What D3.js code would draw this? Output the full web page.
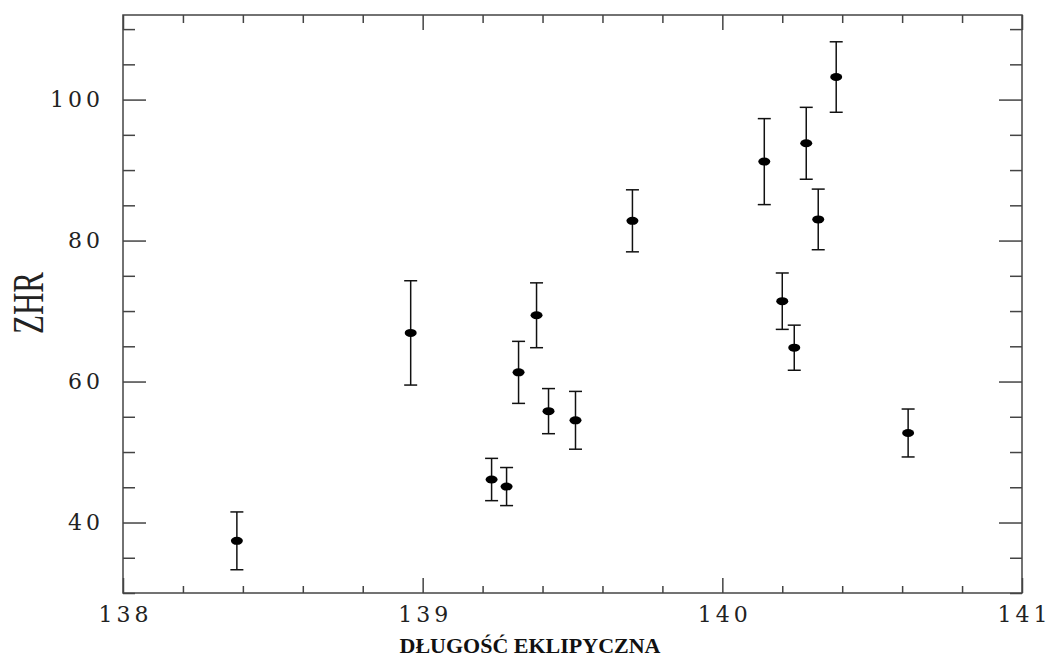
<!DOCTYPE html>
<html>
<head>
<meta charset="utf-8">
<script src="https://cdn.jsdelivr.net/npm/d3@7"></script>
<style>
  body { margin: 0; background: #fff; }
  .tick text { font-family: "DejaVu Serif", serif; font-size: 22px; letter-spacing: 4px; fill: #222; }
</style>
</head>
<body>
<div id="chart"></div>
<script>
// ecliptic longitude (deg), ZHR and its error
const longitude = [138.38, 138.96, 139.23, 139.28, 139.32, 139.38, 139.42, 139.51, 139.70, 140.14, 140.20, 140.24, 140.28, 140.32, 140.38, 140.62];
const zhr       = [37.4,   66.9,   46.1,   45.1,   61.3,   69.4,   55.8,   54.5,   82.8,   91.2,   71.4,   64.8,   93.8,   83.0,   103.2,  52.7];
const zhrError  = [4.1,    7.4,    3.0,    2.7,    4.4,    4.6,    3.2,    4.1,    4.4,    6.1,    4.0,    3.2,    5.1,    4.3,    5.0,    3.4];

const xMajor = [138, 139, 140, 141];
const yMajor = [40, 60, 80, 100];

const width = 1050, height = 660;
const margin = { left: 123, right: 28, top: 15, bottom: 67 };

const svg = d3.select('#chart').append('svg')
    .attr('width', width)
    .attr('height', height);

const x = d3.scaleLinear().domain([138, 141]).range([margin.left, width - margin.right]);
const y = d3.scaleLinear().domain([30, 112]).range([height - margin.bottom, margin.top]);

const xMinor = d3.range(138, 141.001, 0.2).filter(v => Math.abs(v - Math.round(v)) > 0.01);
const yMinor = d3.range(30, 112, 5).filter(v => v % 20 !== 0);

const bottomY = height - margin.bottom;
const rightX = width - margin.right;

// minor ticks (inside, all four sides)
svg.append('g').attr('transform', `translate(0,${bottomY})`)
    .call(d3.axisBottom(x).tickValues(xMinor).tickSize(-7).tickSizeOuter(0).tickFormat(''));
svg.append('g').attr('transform', `translate(0,${margin.top})`)
    .call(d3.axisTop(x).tickValues(xMinor).tickSize(-8).tickSizeOuter(0).tickFormat(''));
svg.append('g').attr('transform', `translate(${margin.left},0)`)
    .call(d3.axisLeft(y).tickValues(yMinor).tickSize(-12).tickSizeOuter(0).tickFormat(''));
svg.append('g').attr('transform', `translate(${rightX},0)`)
    .call(d3.axisRight(y).tickValues(yMinor).tickSize(-12).tickSizeOuter(0).tickFormat(''));

// major ticks with labels
svg.append('g').attr('class', 'x-major').attr('transform', `translate(0,${bottomY})`)
    .call(d3.axisBottom(x).tickValues(xMajor).tickSize(-15).tickSizeOuter(0).tickPadding(13).tickFormat(d3.format('d')));
svg.append('g').attr('transform', `translate(0,${margin.top})`)
    .call(d3.axisTop(x).tickValues(xMajor).tickSize(-15).tickSizeOuter(0).tickFormat(''));
svg.append('g').attr('transform', `translate(${margin.left},0)`)
    .call(d3.axisLeft(y).tickValues(yMajor).tickSize(-23).tickSizeOuter(0).tickPadding(19).tickFormat(d3.format('d')));
svg.append('g').attr('transform', `translate(${rightX},0)`)
    .call(d3.axisRight(y).tickValues(yMajor).tickSize(-23).tickSizeOuter(0).tickFormat(''));

// letter-spacing leaves a trailing gap, nudge centred labels back
svg.selectAll('.x-major .tick text').attr('dx', 2);

svg.selectAll('.domain').remove();
svg.selectAll('.tick line').attr('stroke', '#444').attr('stroke-width', 1.5);

// frame
svg.append('rect')
    .attr('x', margin.left)
    .attr('y', margin.top)
    .attr('width', rightX - margin.left)
    .attr('height', bottomY - margin.top)
    .attr('fill', 'none')
    .attr('stroke', '#444')
    .attr('stroke-width', 1.5);

// error bars
const points = longitude.map((lon, i) => ({ lon, zhr: zhr[i], err: zhrError[i] }));
const bars = svg.append('g').attr('stroke', '#111').attr('stroke-width', 1.5);

points.forEach(p => {
    const cx = x(p.lon);
    const top = y(p.zhr + p.err);
    const bot = y(p.zhr - p.err);
    bars.append('line').attr('x1', cx).attr('x2', cx).attr('y1', top).attr('y2', bot);
    bars.append('line').attr('x1', cx - 6.5).attr('x2', cx + 6.5).attr('y1', top).attr('y2', top);
    bars.append('line').attr('x1', cx - 6.5).attr('x2', cx + 6.5).attr('y1', bot).attr('y2', bot);
});

svg.append('g')
    .selectAll('ellipse')
    .data(points)
    .enter()
    .append('ellipse')
    .attr('cx', d => x(d.lon))
    .attr('cy', d => y(d.zhr))
    .attr('rx', 6)
    .attr('ry', 4)
    .attr('fill', '#000');

// axis titles
svg.append('text')
    .attr('x', 530)
    .attr('y', 653)
    .attr('text-anchor', 'middle')
    .attr('font-family', '"Liberation Serif", serif')
    .attr('font-weight', 'bold')
    .attr('font-size', 22)
    .attr('fill', '#111')
    .text('DŁUGOŚĆ EKLIPYCZNA');

svg.append('text')
    .attr('transform', 'translate(43,303) rotate(-90)')
    .attr('text-anchor', 'middle')
    .attr('font-family', '"Liberation Serif", serif')
    .attr('font-size', 45)
    .attr('textLength', 62)
    .attr('lengthAdjust', 'spacingAndGlyphs')
    .attr('fill', '#222')
    .text('ZHR');
</script>
</body>
</html>
